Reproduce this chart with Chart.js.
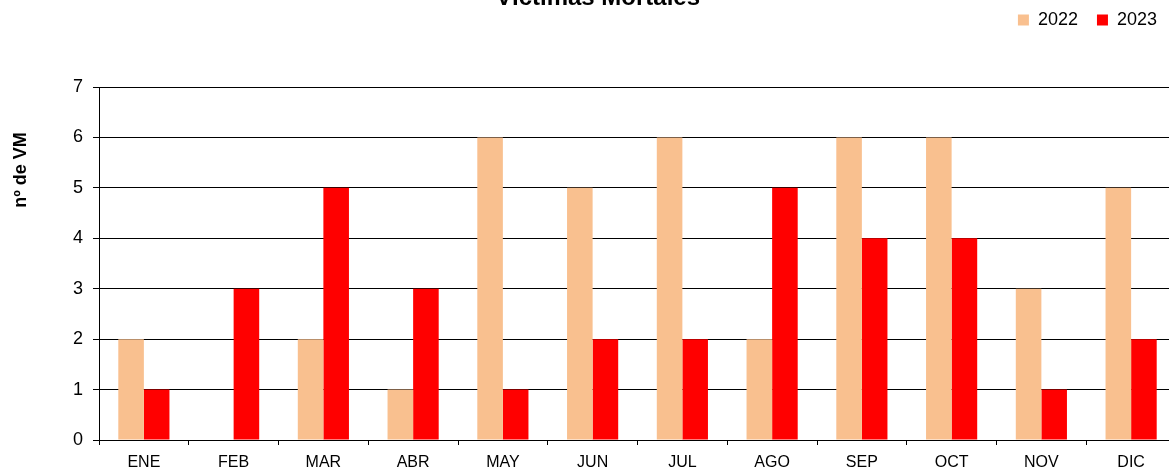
<!DOCTYPE html>
<html>
<head>
<meta charset="utf-8">
<script src="https://cdn.jsdelivr.net/npm/chart.js@4/dist/chart.umd.min.js"></script>
<style>
  body { margin: 0; overflow: hidden; background: #fff; }
  #wrap { position: absolute; left: 0; top: -14px; width: 1180px; height: 482px; }
</style>
</head>
<body>
<div id="wrap"><canvas id="chart"></canvas></div>
<script>
const months = ["ENE", "FEB", "MAR", "ABR", "MAY", "JUN", "JUL", "AGO", "SEP", "OCT", "NOV", "DIC"];
const vm2022 = [2, 0, 2, 1, 6, 5, 6, 2, 6, 6, 3, 5];
const vm2023 = [1, 3, 5, 3, 1, 2, 2, 5, 4, 4, 1, 2];

Chart.defaults.font.family = "'Liberation Sans', Arial, sans-serif";
Chart.defaults.color = "#000";

// extra room under the legend, before the plot starts
const legendMargin = {
  id: "legendMargin",
  beforeInit: function (chart) {
    var fit = chart.legend.fit;
    chart.legend.fit = function () {
      fit.bind(chart.legend)();
      this.height += 48;
    };
  }
};

// y axis title sits high, like in the original
const yTitle = {
  id: "yTitle",
  afterDraw: function (chart) {
    var ctx = chart.ctx;
    ctx.save();
    ctx.translate(21, 184);
    ctx.rotate(-Math.PI / 2);
    ctx.font = "bold 18px 'Liberation Sans', Arial, sans-serif";
    ctx.fillStyle = "#000";
    ctx.textAlign = "center";
    ctx.textBaseline = "middle";
    ctx.fillText("nº de VM", 0, 0);
    ctx.restore();
  }
};

var ctx = document.getElementById("chart").getContext("2d");
var myChart = new Chart(ctx, {
  type: "bar",
  data: {
    labels: months,
    datasets: [
      {
        label: "2022",
        data: vm2022,
        backgroundColor: "#F9C08F",
        borderWidth: 0,
      },
      {
        label: "2023",
        data: vm2023,
        backgroundColor: "#FF0000",
        borderWidth: 0,
      },
    ],
  },
  options: {
    responsive: true,
    maintainAspectRatio: false,
    animation: false,
    datasets: {
      bar: { categoryPercentage: 0.57, barPercentage: 1.0 }
    },
    layout: { padding: { left: 20, right: 4, top: 0, bottom: 0 } },
    plugins: {
      title: {
        display: true,
        text: "Víctimas Mortales",
        font: { size: 24, weight: "bold" },
        padding: { top: -2, bottom: -20.8 },
      },
      legend: {
        position: "top",
        align: "end",
        labels: {
          boxWidth: 11,
          boxHeight: 11,
          padding: 19,
          font: { size: 18 },
        },
      },
      tooltip: { enabled: false },
    },
    scales: {
      x: {
        grid: {
          offset: true,
          drawOnChartArea: false,
          drawTicks: true,
          tickLength: 5,
          color: "#000",
        },
        border: { color: "#000" },
        ticks: { font: { size: 16 }, padding: 8, maxRotation: 0 },
        afterFit: function (scale) { scale.height = 28; },
      },
      y: {
        min: 0,
        max: 7,
        ticks: { stepSize: 1, font: { size: 18 }, padding: 10 },
        grid: { color: "#000", tickLength: 6 },
        border: { color: "#000" },
        afterFit: function (scale) { scale.width = 79; },
      },
    },
  },
  plugins: [legendMargin, yTitle],
});
</script>
</body>
</html>
